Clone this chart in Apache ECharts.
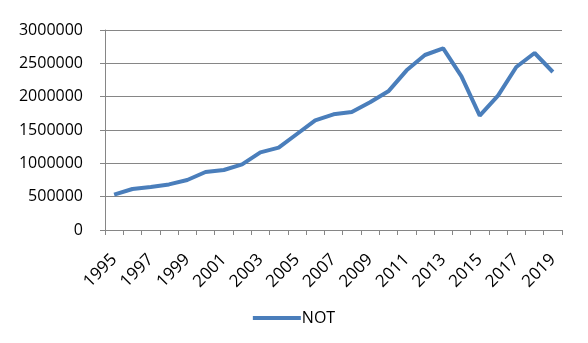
<!DOCTYPE html>
<html>
<head>
<meta charset="utf-8">
<script src="https://cdn.jsdelivr.net/npm/echarts@6/dist/echarts.min.js"></script>
<style>html,body{margin:0;padding:0;background:#fff}#c{width:588px;height:343px}</style>
</head>
<body>
<div id="c"></div>
<script>
const years = ['1995','1996','1997','1998','1999','2000','2001','2002','2003','2004','2005','2006','2007','2008','2009','2010','2011','2012','2013','2014','2015','2016','2017','2018','2019'];
const notValues = [530000,615000,645000,684000,750000,870000,900000,985000,1165000,1235000,1440000,1645000,1735000,1770000,1915000,2080000,2395000,2625000,2725000,2305000,1715000,2015000,2445000,2655000,2370000];
const seriesName = 'NOT';

const chart = echarts.init(document.getElementById('c'), null, {renderer:'canvas'});
const font = 'Open Sans';
chart.setOption({
  animation:false,
  grid:{left:105,right:26,top:30,bottom:113,containLabel:false},
  legend:{
    data:[seriesName], bottom:12, left:'center',
    icon:'rect', itemWidth:48, itemHeight:4, itemGap:8,
    textStyle:{fontFamily:font,fontSize:16,color:'#000',padding:[0,0,0,-4]}
  },
  xAxis:{
    type:'category', data:years, boundaryGap:true,
    axisLine:{lineStyle:{color:'#868686',width:1}},
    axisTick:{show:true,interval:0,length:5,lineStyle:{color:'#868686'}},
    axisLabel:{interval:1,rotate:45,fontFamily:font,fontSize:17,color:'#000',margin:27}
  },
  yAxis:{
    type:'value', min:0, max:3000000, interval:500000,
    axisLine:{show:true,lineStyle:{color:'#868686',width:1}},
    axisTick:{show:true,length:5,lineStyle:{color:'#868686'}},
    splitLine:{lineStyle:{color:'#868686',width:1}},
    axisLabel:{fontFamily:font,fontSize:16,color:'#000',margin:22,formatter:function(v){return String(v);}}
  },
  series:[{
    name:seriesName, type:'line', data:notValues,
    symbol:'none', lineStyle:{color:'#4A7EBB',width:4},
    itemStyle:{color:'#4A7EBB'}
  }]
});
</script>
</body>
</html>
